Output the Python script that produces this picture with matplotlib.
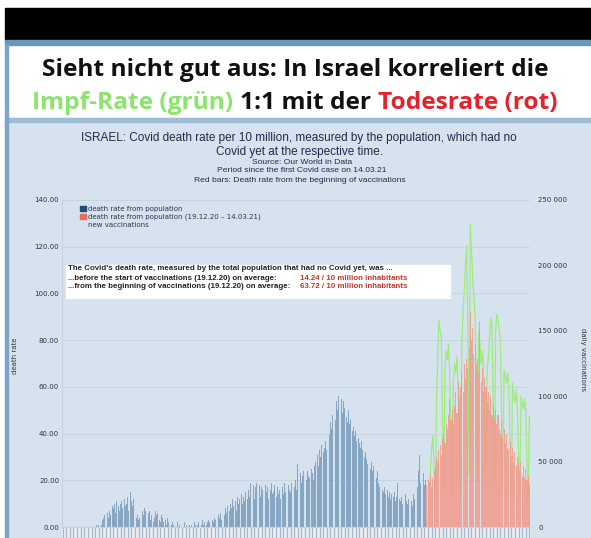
import matplotlib
matplotlib.use("Agg")
import numpy as np
import matplotlib.pyplot as plt
from matplotlib.patches import Rectangle, Patch
from matplotlib.lines import Line2D

# daily death rate per 10 million (population without covid), 21.02.20 - 18.12.20
death_rate_before = [
    0, 0, 0, 0, 0, 0, 0,
    0, 0, 0, 0, 0, 0, 0,
    0, 0, 0, 0, 0, 0, 0,
    0, 0, 0, 0, 0, 0, 0,
    1, 0, 1, 2, 1, 3, 4,
    5, 3, 6, 4, 7, 5, 9,
    8, 10, 6, 11, 9, 7, 10,
    11, 8, 12, 9, 10, 13, 7,
    15, 11, 9, 12, 6, 4, 5,
    3, 4, 6, 7, 5, 8, 7,
    4, 6, 7, 3, 5, 2, 4,
    7, 5, 6, 3, 2, 5, 4,
    2, 3, 1, 4, 2, 4, 1,
    2, 1, 0, 1, 2, 0, 1,
    0, 1, 0, 2, 0, 1, 0,
    1, 0, 1, 0, 2, 1, 0,
    1, 2, 0, 1, 3, 1, 2,
    1, 2, 3, 2, 4, 3, 2,
    4, 3, 2, 5, 4, 6, 3,
    7, 5, 8, 6, 9, 7, 10,
    8, 12, 9, 11, 7, 13, 10,
    12, 14, 10, 13, 11, 15, 12,
    16, 13, 19, 14, 18, 12, 17,
    19, 15, 18, 13, 17, 16, 14,
    18, 15, 17, 12, 16, 19, 14,
    15, 18, 13, 17, 14, 16, 12,
    17, 14, 19, 15, 13, 18, 16,
    15, 19, 14, 17, 20, 16, 27,
    20, 23, 19, 22, 24, 21, 20,
    24, 22, 21, 25, 23, 20, 26,
    28, 31, 26, 33, 30, 35, 32,
    34, 37, 33, 36, 40, 45, 42,
    48, 52, 46, 54, 50, 56, 53,
    55, 49, 54, 51, 47, 45, 50,
    44, 46, 41, 43, 39, 41, 37,
    38, 36, 34, 37, 33, 30, 32,
    29, 27, 31, 25, 28, 24, 26,
    23, 21, 24, 19, 17, 20, 16,
    15, 17, 14, 16, 13, 15, 12,
    14, 13, 15, 11, 13, 19, 12,
    11, 13, 10, 12, 14, 11, 10,
    12, 13, 11, 9, 14, 12, 10,
    17, 24, 31, 19, 21, 23, 18,
    20,
]

# 19.12.20 - 14.03.21
death_rate_vacc = [
    18, 20, 19, 22, 17, 21, 24,
    26, 30, 28, 33, 35, 31, 38,
    40, 36, 44, 42, 48, 55, 46,
    50, 44, 52, 58, 49, 62, 56,
    60, 66, 58, 70, 64, 72, 68,
    76, 92, 80, 85, 74, 78, 70,
    72, 66, 88, 62, 68, 58, 64,
    60, 54, 58, 50, 56, 48, 52,
    46, 50, 44, 48, 42, 40, 45,
    38, 42, 36, 40, 34, 33, 37,
    30, 34, 28, 32, 26, 30, 27,
    24, 28, 22, 26, 21, 25, 20,
    22, 19,
]

new_vaccinations = [
    0, 7000, 25000, 45000, 60000, 70000, 45000,
    15000, 95000, 130000, 158000, 150000, 145000, 80000,
    30000, 120000, 135000, 128000, 140000, 115000, 70000,
    25000, 110000, 125000, 118000, 130000, 105000, 60000,
    22000, 140000, 165000, 180000, 200000, 215000, 150000,
    40000, 232000, 210000, 190000, 175000, 160000, 90000,
    35000, 150000, 140000, 125000, 135000, 118000, 70000,
    25000, 120000, 130000, 145000, 160000, 155000, 95000,
    35000, 150000, 163000, 158000, 150000, 140000, 85000,
    30000, 120000, 115000, 110000, 118000, 105000, 60000,
    25000, 110000, 100000, 95000, 105000, 92000, 55000,
    20000, 100000, 95000, 90000, 98000, 88000, 50000,
    18000, 85000,
]

left_ticks = [0, 20, 40, 60, 80, 100, 120, 140]
right_ticks = [0, 50000, 100000, 150000, 200000, 250000]

W, H = 591, 538
fig = plt.figure(figsize=(W / 100, H / 100), dpi=100, facecolor="white")


def fx(px):
    return px / W


def fy(py):
    return 1 - py / H


def rect(x0, y0, x1, y1, color, z=-1):
    fig.patches.append(Rectangle((fx(x0), fy(y1)), fx(x1) - fx(x0), fy(y0) - fy(y1),
                                 transform=fig.transFigure, color=color, zorder=z))


# screenshot frame
rect(5, 8, 591, 40, "black")
rect(5, 40, 591, 45, "#6a98bd")
rect(5, 118, 591, 538, "#d6e2ee")
rect(5, 118, 591, 122, "#9fbbd6")
rect(62, 528, 530, 538, "#e8eef4")
rect(5, 45, 8, 538, "#7aa6cc")

r = fig.canvas.get_renderer()


def fit(t, width):
    bb = t.get_window_extent(renderer=r)
    t.set_fontsize(t.get_fontsize() * width / bb.width)
    return t


# headline
tfont = dict(family=["Open Sans", "DejaVu Sans"], weight="bold", va="center")
fit(fig.text(fx(295), fy(70), "Sieht nicht gut aus: In Israel korreliert die",
             ha="center", color="#111111", fontsize=18, **tfont), 508)
size = fig.texts[-1].get_fontsize()
pieces = [("Impf-Rate (grün)", "#8de46c"), ("1:1 mit der", "#111111"), ("Todesrate (rot)", "#e3222b")]
objs = [fig.text(0, fy(103), p, color=c, fontsize=size, ha="left", **tfont) for p, c in pieces]
widths = [o.get_window_extent(renderer=r).width for o in objs]
gap = 7
x = 295 - (sum(widths) + gap * 2) / 2
for o, w in zip(objs, widths):
    o.set_x(fx(x))
    x += w + gap

# chart titles
navy = "#1e2c4a"
sfont = dict(family=["Liberation Sans", "DejaVu Sans"], ha="center", va="center", color=navy)
fit(fig.text(fx(299), fy(138), "ISRAEL: Covid death rate per 10 million, measured by the population, which had no",
             fontsize=8, **sfont), 438)
fig.text(fx(299), fy(152), "Covid yet at the respective time.", fontsize=fig.texts[-1].get_fontsize(), **sfont)
fit(fig.text(fx(302), fy(171), "Period since the first Covid case on 14.03.21", fontsize=5, **sfont), 171)
small = fig.texts[-1].get_fontsize()
fig.text(fx(302), fy(163), "Source: Our World in Data", fontsize=small, **sfont)
fig.text(fx(300), fy(180), "Red bars: Death rate from the beginning of vaccinations", fontsize=small, **sfont)

# axes
ax = fig.add_axes([fx(62), fy(527), fx(530) - fx(62), fy(200) - fy(527)])
ax.set_facecolor("none")
ax2 = ax.twinx()

n_before = len(death_rate_before)
days_before = np.arange(n_before)
days_vacc = np.arange(n_before, n_before + len(death_rate_vacc))

ax2.plot(days_vacc, new_vaccinations, color="#9eec7a", lw=0.9, zorder=1)
ax.set_zorder(2)
ax.bar(days_before, death_rate_before, width=0.75, color="#86a6c3", zorder=2)
ax.bar(days_vacc, death_rate_vacc, width=0.9, color="#f3998a", alpha=0.85, zorder=2)

ax.set_xlim(-0.5, n_before + len(death_rate_vacc) - 0.5)
ax.set_ylim(0, 140)
ax2.set_ylim(0, 250000)
ax.set_yticks(left_ticks)
ax.set_yticklabels([f"{v:.2f}" for v in left_ticks])
ax2.set_yticks(right_ticks)
ax2.set_yticklabels([f"{v:,}".replace(",", " ") for v in right_ticks])
ax.yaxis.grid(True, color="#c5d2df", lw=0.6)
ax.set_axisbelow(True)

ax.set_xticks(np.arange(0, n_before + len(death_rate_vacc), 3))
ax.set_xticklabels([])
ax.tick_params(axis="x", length=9, width=0.9, color="#a9b8c7", direction="out")
ax.tick_params(axis="y", length=0, labelsize=5, labelcolor="#333333", pad=2)
ax2.tick_params(axis="y", length=0, labelsize=5, labelcolor="#333333", pad=6)
for a in (ax, ax2):
    for s in a.spines.values():
        s.set_visible(False)
ax.spines["left"].set_visible(True)
ax.spines["left"].set_color("#c5d2df")
ax.spines["bottom"].set_visible(True)
ax.spines["bottom"].set_color("#c5d2df")

fig.text(fx(15), fy(356), "death rate", rotation=90, fontsize=5, color="#333333", ha="center", va="center")
fig.text(fx(583), fy(360), "daily vaccinations", rotation=270, fontsize=5, color="#333333", ha="center", va="center")

handles = [Patch(color="#1f4e7a"), Patch(color="#ee6a5a"), Line2D([], [], color="#c9f0b8", lw=1)]
labels = ["death rate from population", "death rate from population (19.12.20 \u2013 14.03.21)", "new vaccinations"]
ax.legend(handles, labels, loc="upper left", bbox_to_anchor=(fx(80), fy(206)), bbox_transform=fig.transFigure,
          frameon=False, fontsize=5, handlelength=0.8, handleheight=0.8, handletextpad=0.4,
          labelspacing=0.25, borderpad=0, borderaxespad=0, labelcolor="#2a3550")

# annotation box, above the plot
rect(66, 265, 450, 298, "white", z=5)
afont = dict(family=["Liberation Sans", "DejaVu Sans"], ha="left", va="center", weight="bold", zorder=6)
fit(fig.text(fx(68), fy(269), "The Covid's death rate, measured by the total population that had no Covid yet, was ...",
             fontsize=5, color="#222222", **afont), 325)
asz = fig.texts[-1].get_fontsize()
fig.text(fx(68), fy(278), "...before the start of vaccinations (19.12.20) on average:", fontsize=asz, color="#222222", **afont)
fig.text(fx(68), fy(287), "...from the beginning of vaccinations (19.12.20) on average:", fontsize=asz, color="#222222", **afont)
fig.text(fx(300), fy(278), "14.24 / 10 million inhabitants", fontsize=asz, color="#c0392b", **afont)
fig.text(fx(300), fy(287), "63.72 / 10 million inhabitants", fontsize=asz, color="#c0392b", **afont)

fig.savefig("out.png", dpi=100, facecolor="white")
